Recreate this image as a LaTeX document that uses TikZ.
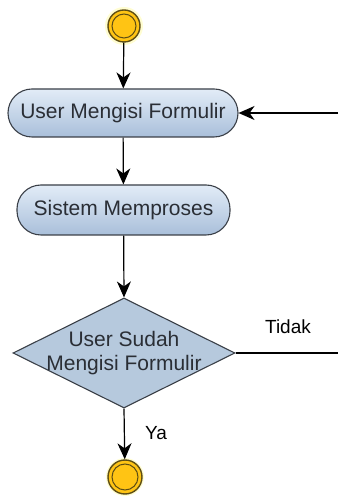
\documentclass[tikz,border=0pt]{standalone}
\usepackage{fontspec}
\setmainfont{Liberation Sans}
\usetikzlibrary{arrows.meta,shapes.geometric}
\definecolor{nodeborder}{HTML}{3A3F47}
\definecolor{nodetop}{HTML}{E2ECF7}
\definecolor{nodebot}{HTML}{A9BFDA}
\definecolor{diafill}{HTML}{B6C9DD}
\definecolor{circfill}{HTML}{FFC414}
\definecolor{circline}{HTML}{5E4E14}
\definecolor{txt}{HTML}{2A2E35}
\tikzset{
  actbox/.style={draw=nodeborder, line width=1.1pt, rounded corners=24pt,
    top color=nodetop, bottom color=nodebot, text=txt,
    font=\fontsize{21}{24}\selectfont, inner sep=0pt},
  flow/.style={-{Stealth[length=16pt,width=14pt,inset=5pt]}, line width=1.2pt, black},
  plainline/.style={line width=1.2pt, black},
  lbl/.style={font=\fontsize{19}{22}\selectfont, text=black, inner sep=0pt}
}
\begin{document}
\begin{tikzpicture}[x=1pt,y=1pt]
\useasboundingbox (0,0) rectangle (338,498);
% start
\fill[yellow!30, opacity=0.6] (124,472) circle (19);
\node[circle, draw=circline, line width=1.4pt, fill=circfill, minimum size=32pt, inner sep=0pt] (s) at (124,472) {};
\draw[circline, line width=1pt] (s.center) circle (12);
% activities
\node[actbox, minimum width=230pt, minimum height=48pt] (a1) at (123,385) {User Mengisi Formulir};
\node[actbox, minimum width=213pt, minimum height=50pt] (a2) at (123.5,288) {Sistem Memproses};
% decision
\node[diamond, draw=nodeborder, line width=1.1pt, fill=diafill, minimum width=222pt, minimum height=110pt, inner sep=0pt] (d) at (124,145) {};
\node[text=txt, font=\fontsize{21}{24}\selectfont, align=center, inner sep=0pt] (dt) at (124,145) {User Sudah\\Mengisi Formulir};
% end
\fill[yellow!30, opacity=0.6] (125,21) circle (19);
\node[circle, draw=circline, line width=1.4pt, fill=circfill, minimum size=34pt, inner sep=0pt] (e) at (125,21) {};
\draw[circline, line width=1pt] (e.center) circle (13);
% free ends
\coordinate (r1) at (338,385);
\coordinate (r2) at (338,145);
% connectors
\draw[flow] (s) -- (a1);
\draw[flow] (a1) -- (a2);
\draw[flow] (a2) -- (d.north);
\draw[flow] (d.south) -- (e);
\draw[plainline] (d.east) -- (r2);
\draw[flow] (r1) -- (a1.east);
% labels
\node[lbl] (tidak) at (288,171) {Tidak};
\node[lbl] (ya) at (156,65) {Ya};
\end{tikzpicture}
\end{document}
